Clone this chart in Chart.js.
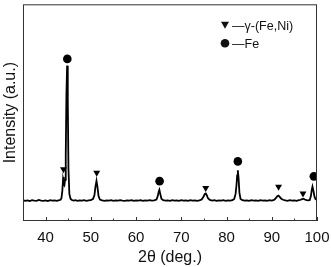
<!DOCTYPE html>
<html>
<head>
<meta charset="utf-8">
<script src="https://cdn.jsdelivr.net/npm/chart.js@4"></script>
<style>
  html, body { margin: 0; padding: 0; background: #fff; }
  #wrap { width: 331px; height: 267px; }
</style>
</head>
<body>
<div id="wrap"><canvas id="xrdChart"></canvas></div>
<script>
Chart.defaults.font.family = '"Liberation Sans", Arial, sans-serif';
Chart.defaults.color = '#111';

// 2theta positions and intensity (a.u.)
const twoTheta = [35.0, 35.5, 36.0, 36.5, 37.0, 37.5, 38.0, 38.5, 39.0, 39.5, 40.0, 40.5, 41.0, 41.5, 42.0, 42.5, 43.0, 43.3, 43.5, 43.7, 43.85, 43.95, 44.05, 44.15, 44.3, 44.45, 44.6, 44.75, 44.9, 45.05, 45.25, 45.5, 45.8, 46.2, 46.6, 47.0, 47.5, 48.0, 48.5, 49.0, 49.5, 50.0, 50.5, 50.8, 51.0, 51.25, 51.45, 51.7, 52.0, 52.5, 53.0, 53.5, 54.0, 54.5, 55.0, 55.5, 56.0, 56.5, 57.0, 57.5, 58.0, 58.5, 59.0, 59.5, 60.0, 60.5, 61.0, 61.5, 62.0, 62.5, 63.0, 63.5, 64.0, 64.5, 64.8, 65.0, 65.15, 65.35, 65.6, 66.0, 66.5, 67.0, 67.5, 68.0, 68.5, 69.0, 69.5, 70.0, 70.5, 71.0, 71.5, 72.0, 72.5, 73.0, 73.5, 74.0, 74.5, 74.9, 75.2, 75.4, 75.6, 75.9, 76.3, 76.8, 77.3, 77.8, 78.3, 78.8, 79.3, 79.8, 80.3, 80.8, 81.3, 81.7, 82.0, 82.2, 82.35, 82.5, 82.65, 82.85, 83.1, 83.5, 84.0, 84.5, 85.0, 85.5, 86.0, 86.5, 87.0, 87.5, 88.0, 88.5, 89.0, 89.5, 90.0, 90.5, 90.9, 91.2, 91.5, 91.8, 92.1, 92.5, 93.0, 93.5, 94.0, 94.5, 95.0, 95.5, 96.0, 96.4, 96.7, 97.0, 97.3, 97.7, 98.1, 98.4, 98.65, 98.85, 99.0, 99.2, 99.45, 99.7, 100.0];
const intensity = [9.6, 9.3, 9.5, 9.2, 9.6, 9.4, 9.3, 9.7, 9.4, 9.3, 9.5, 9.2, 9.6, 9.4, 9.5, 9.3, 9.6, 9.8, 10.5, 14.0, 19.0, 20.3, 17.0, 16.5, 19.0, 30.0, 58.0, 71.7, 56.0, 24.0, 12.5, 10.3, 9.7, 9.4, 9.6, 9.3, 9.5, 9.4, 9.6, 9.3, 9.5, 9.6, 10.2, 12.0, 15.5, 18.5, 16.0, 11.5, 9.9, 9.5, 9.3, 9.5, 9.4, 9.6, 9.3, 9.5, 9.4, 9.6, 9.4, 9.3, 9.5, 9.4, 9.6, 9.3, 9.5, 9.4, 9.6, 9.3, 9.5, 9.4, 9.6, 9.4, 9.5, 9.9, 11.5, 13.5, 14.4, 12.5, 10.3, 9.6, 9.4, 9.5, 9.3, 9.6, 9.4, 9.5, 9.3, 9.6, 9.4, 9.5, 9.3, 9.6, 9.4, 9.5, 9.3, 9.5, 9.9, 11.2, 12.5, 12.7, 12.0, 10.5, 9.7, 9.4, 9.6, 9.3, 9.5, 9.4, 9.6, 9.3, 9.5, 9.4, 9.6, 10.2, 12.5, 16.5, 21.0, 23.4, 20.0, 13.0, 10.2, 9.6, 9.4, 9.5, 9.3, 9.6, 9.4, 9.5, 9.3, 9.6, 9.4, 9.5, 9.3, 9.6, 9.4, 9.7, 10.5, 11.4, 11.7, 11.0, 10.3, 9.8, 9.5, 9.3, 9.6, 9.4, 9.5, 9.3, 9.6, 9.8, 10.1, 10.3, 9.9, 9.6, 9.5, 9.7, 11.5, 14.5, 15.9, 14.0, 11.2, 10.0, 9.8];

// phase markers
const gammaX = [43.95, 51.3, 75.4, 91.5, 96.9];
const gammaY = [23.9, 22.3, 15.2, 15.8, 12.7];
const feX = [44.8, 65.2, 82.5, 99.3];
const feY = [74.8, 18.4, 27.5, 20.6];

const xTicks = [40, 50, 60, 70, 80, 90, 100];
const xMinorTicks = [45, 55, 65, 75, 85, 95];

const legendItems = [
  { label: '\u2014\u03b3-(Fe,Ni)', style: 'triangle' },
  { label: '\u2014Fe', style: 'circle' }
];

function toPoints(xs, ys) {
  return xs.map((x, i) => ({ x: x, y: ys[i] }));
}

// frame, inward ticks and the in-plot legend
const framePlugin = {
  id: 'frame',
  afterDraw(chart) {
    const ctx = chart.ctx;
    const a = chart.chartArea;
    const xs = chart.scales.x;
    ctx.save();
    ctx.strokeStyle = '#333';
    ctx.lineWidth = 1;
    ctx.strokeRect(a.left + 0.5, a.top + 0.5, a.right - a.left - 1, a.bottom - a.top - 1);
    ctx.beginPath();
    xTicks.forEach(v => {
      const px = Math.round(xs.getPixelForValue(v)) + 0.5;
      ctx.moveTo(px, a.bottom);
      ctx.lineTo(px, a.bottom - 4);
    });
    xMinorTicks.forEach(v => {
      const px = Math.round(xs.getPixelForValue(v)) + 0.5;
      ctx.moveTo(px, a.bottom);
      ctx.lineTo(px, a.bottom - 2.5);
    });
    ctx.stroke();

    // legend
    ctx.fillStyle = '#111';
    ctx.font = '12.5px "Liberation Sans", Arial, sans-serif';
    ctx.textBaseline = 'middle';
    legendItems.forEach((item, i) => {
      const cx = a.left + 202;
      const cy = a.top + 21 + i * 18;
      ctx.beginPath();
      if (item.style === 'triangle') {
        ctx.moveTo(cx - 4, cy - 3.5);
        ctx.lineTo(cx + 4, cy - 3.5);
        ctx.lineTo(cx, cy + 3.5);
        ctx.closePath();
      } else {
        ctx.arc(cx, cy, 4.3, 0, Math.PI * 2);
      }
      ctx.fill();
      ctx.fillText(item.label, cx + 7, cy + 1);
    });
    ctx.restore();
  }
};

const ctx = document.getElementById('xrdChart').getContext('2d');

new Chart(ctx, {
  type: 'scatter',
  data: {
    datasets: [
      {
        label: 'XRD',
        data: toPoints(twoTheta, intensity),
        showLine: true,
        borderColor: '#000',
        borderWidth: 1.8,
        pointRadius: 0,
        tension: 0,
        order: 2
      },
      {
        label: '\u03b3-(Fe,Ni)',
        data: toPoints(gammaX, gammaY),
        pointStyle: 'triangle',
        rotation: 180,
        pointRadius: 4,
        backgroundColor: '#000',
        borderColor: '#000',
        borderWidth: 0,
        order: 1
      },
      {
        label: 'Fe',
        data: toPoints(feX, feY),
        pointStyle: 'circle',
        pointRadius: 4.3,
        backgroundColor: '#000',
        borderColor: '#000',
        borderWidth: 0,
        order: 1
      }
    ]
  },
  options: {
    responsive: true,
    maintainAspectRatio: false,
    animation: false,
    layout: { padding: { top: 1, right: 14, left: 0, bottom: 0 } },
    plugins: {
      legend: { display: false },
      tooltip: { enabled: false }
    },
    scales: {
      x: {
        type: 'linear',
        min: 35,
        max: 100,
        afterBuildTicks: (scale) => { scale.ticks = xTicks.map(v => ({ value: v })); },
        afterFit: (scale) => { scale.height = 46; },
        grid: { display: false },
        border: { display: false },
        ticks: { font: { size: 15 }, color: '#111', padding: 0 },
        title: { display: true, text: '2\u03b8 (deg.)', font: { size: 16 }, color: '#111', padding: { top: 0, bottom: 0 } }
      },
      y: {
        min: 0,
        max: 100,
        afterFit: (scale) => { scale.width = 23; },
        grid: { display: false },
        border: { display: false },
        ticks: { display: false },
        title: { display: true, text: 'Intensity (a.u.)', font: { size: 16 }, color: '#111', padding: { top: 1, bottom: 0 } }
      }
    }
  },
  plugins: [framePlugin]
});
</script>
</body>
</html>
